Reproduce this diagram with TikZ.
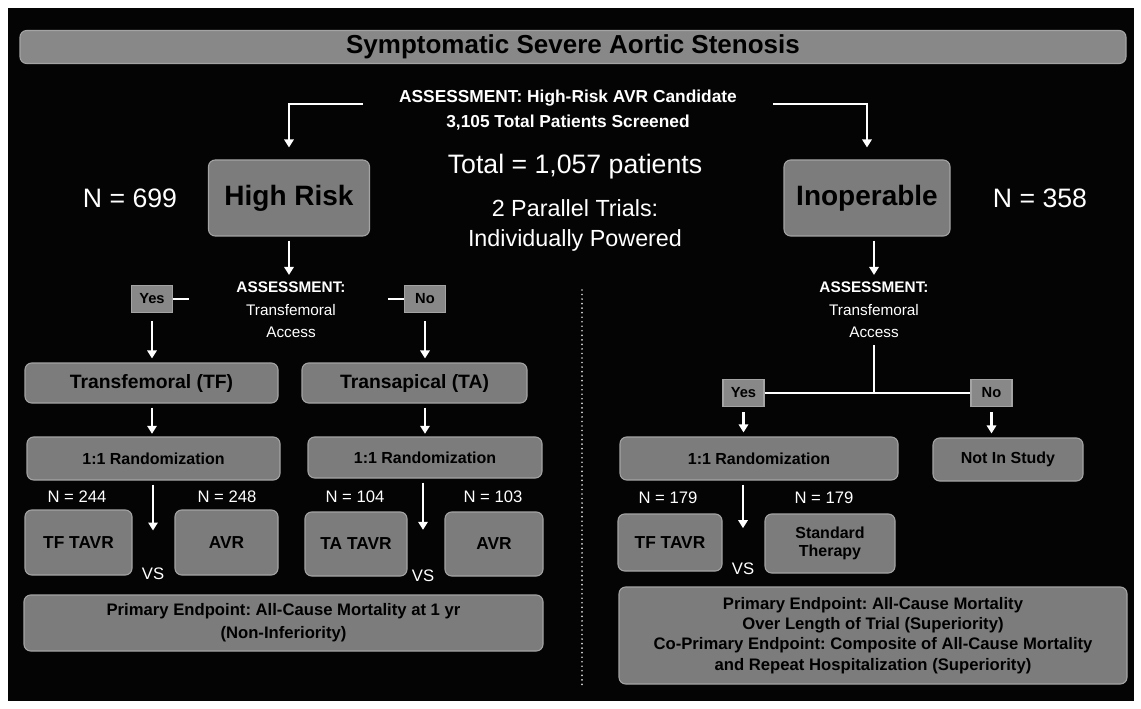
\documentclass[tikz,border=0pt]{standalone}
\usepackage{fontspec}
\setmainfont{Liberation Sans}
\usepackage{tikz}
\usetikzlibrary{arrows.meta, positioning, calc}
\definecolor{PanelBlack}{HTML}{040404}
\definecolor{BoxGray}{HTML}{7C7C7C}
\definecolor{BoxEdge}{HTML}{A4A4A4}
\definecolor{TagGray}{HTML}{888888}
\definecolor{DotGray}{HTML}{D8D8D8}
\frenchspacing

\begin{document}
\begin{tikzpicture}[
  x=0.75pt, y=-0.75pt,
  boxsize/.style 2 args={minimum width=#1*0.75pt, minimum height=#2*0.75pt},
  gbox/.style={rectangle, rounded corners=5pt, draw=BoxEdge, line width=0.8pt, fill=BoxGray, text=black, inner sep=0pt, align=center, font=\bfseries\fontsize{12}{14}\selectfont},
  tag/.style={rectangle, draw=BoxEdge, line width=0.8pt, fill=TagGray, text=black, inner sep=0pt, boxsize={41}{27}, font=\bfseries\fontsize{11}{13}\selectfont},
  wtext/.style={text=white, align=center, inner sep=0pt},
  bignum/.style={wtext, font=\fontsize{20}{24}\selectfont},
  smallnum/.style={wtext, font=\fontsize{12.5}{15}\selectfont},
  assess/.style={wtext, font=\fontsize{11.5}{17}\selectfont},
  arrow/.style={-{Triangle[width=7pt,length=6pt]}, line width=1.6pt, white},
  link/.style={line width=1.6pt, white}
]
  \useasboundingbox (0,0) rectangle (1141,709);
  \fill[white] (0,0) rectangle (1141,709);
  \fill[PanelBlack] (8,8) rectangle (1134,701);

  % Header
  \node[gbox, boxsize={1106}{33}, fill=TagGray, font=\bfseries\fontsize{19.5}{22}\selectfont] (title) at (573,47) {Symptomatic Severe Aortic Stenosis};
  \node[wtext, font=\bfseries\fontsize{13}{19}\selectfont] (screen) at (568,110) {ASSESSMENT: High-Risk AVR Candidate\\3,105 Total Patients Screened};
  \node[wtext, font=\fontsize{20}{24}\selectfont] (total) at (575,167) {Total = 1,057 patients};
  \node[wtext, font=\fontsize{17.5}{22.5}\selectfont] (parallel) at (575,225) {2 Parallel Trials:\\Individually Powered};

  % Two trials
  \node[gbox, boxsize={161}{76}, font=\bfseries\fontsize{21}{24}\selectfont] (highrisk) at (289,198) {High Risk};
  \node[gbox, boxsize={166}{76}, font=\bfseries\fontsize{21}{24}\selectfont] (inop) at (867,198) {Inoperable};
  \node[bignum] (nhigh) at (130,198) {N = 699};
  \node[bignum] (ninop) at (1040,198) {N = 358};

  % High risk branch
  \node[assess] (assessL) at (291,310) {\textbf{ASSESSMENT:}\\Transfemoral\\Access};
  \node[tag] (yesL) at (152,299) {Yes};
  \node[tag] (noL) at (425,299) {No};
  \node[gbox, boxsize={253}{40}, font=\bfseries\fontsize{14.5}{17}\selectfont] (tf) at (151.5,383) {Transfemoral (TF)};
  \node[gbox, boxsize={225}{40}, font=\bfseries\fontsize{14.5}{17}\selectfont] (ta) at (414.5,383) {Transapical (TA)};
  \node[gbox, boxsize={253}{43}] (randtf) at (153.5,458.5) {1:1 Randomization};
  \node[gbox, boxsize={234}{41}] (randta) at (425,457.5) {1:1 Randomization};
  \node[smallnum] (n244) at (77,497) {N = 244};
  \node[smallnum] (n248) at (227,497) {N = 248};
  \node[smallnum] (n104) at (355,497) {N = 104};
  \node[smallnum] (n103) at (493,497) {N = 103};
  \node[gbox, boxsize={107}{65}, font=\bfseries\fontsize{13}{15}\selectfont] (tftavr) at (78.5,542.5) {TF TAVR};
  \node[gbox, boxsize={103}{65}, font=\bfseries\fontsize{13}{15}\selectfont] (avrtf) at (226.5,542.5) {AVR};
  \node[gbox, boxsize={102}{64}, font=\bfseries\fontsize{13}{15}\selectfont] (tatavr) at (356,544) {TA TAVR};
  \node[gbox, boxsize={98}{64}, font=\bfseries\fontsize{13}{15}\selectfont] (avrta) at (494,544) {AVR};
  \node[smallnum] (vstf) at (153,574) {VS};
  \node[smallnum] (vsta) at (423,576) {VS};
  \node[gbox, boxsize={519}{56}, font=\bfseries\fontsize{12.5}{17}\selectfont] (endhigh) at (283.5,623) {Primary Endpoint: All-Cause Mortality at 1 yr\\(Non-Inferiority)};

  % Inoperable branch
  \node[assess] (assessR) at (874,310) {\textbf{ASSESSMENT:}\\Transfemoral\\Access};
  \node[tag] (yesR) at (743.5,393) {Yes};
  \node[tag] (noR) at (991.5,393) {No};
  \node[gbox, boxsize={278}{43}] (randinop) at (759,458.5) {1:1 Randomization};
  \node[gbox, boxsize={150}{43}] (notin) at (1008,459.5) {Not In Study};
  \node[smallnum] (n179a) at (668,498) {N = 179};
  \node[smallnum] (n179b) at (824,498) {N = 179};
  \node[gbox, boxsize={104}{57}, font=\bfseries\fontsize{13}{15}\selectfont] (tftavrR) at (670,542.5) {TF TAVR};
  \node[gbox, boxsize={130}{59}, font=\bfseries\fontsize{12}{14}\selectfont] (stdther) at (830,543.5) {Standard\\Therapy};
  \node[smallnum] (vsinop) at (743,569) {VS};
  \node[gbox, boxsize={508}{97}, font=\bfseries\fontsize{12.5}{15.2}\selectfont] (endinop) at (873,635.5) {Primary Endpoint: All-Cause Mortality\\Over Length of Trial (Superiority)\\Co-Primary Endpoint: Composite of All-Cause Mortality\\and Repeat Hospitalization (Superiority)};

  % Divider
  \draw[DotGray, line width=1.4pt, line cap=round, dash pattern=on 0pt off 3.4pt] (582,290) -- (582,685);

  % Arrows
  \draw[arrow] ([xshift=-27pt, yshift=4.5pt]screen.west) -| ([yshift=9pt]highrisk.north);
  \draw[arrow] ([xshift=27pt, yshift=4.5pt]screen.east) -| ([yshift=9pt]inop.north);
  \draw[arrow, shorten <=3pt, shorten >=5pt] (highrisk.south) -- (highrisk.south |- assessL.north);
  \draw[arrow, shorten <=3pt, shorten >=5pt] (inop.south -| assessR.north) -- (assessR.north);
  \draw[link] (yesL.east) -- ++(16,0);
  \draw[link] (noL.west) -- ++(-16,0);
  \draw[arrow, shorten <=6pt, shorten >=3pt] (yesL.south) -- (yesL.south |- tf.north);
  \draw[arrow, shorten <=6pt, shorten >=3pt] (noL.south) -- (noL.south |- ta.north);
  \draw[arrow, shorten <=3pt, shorten >=2pt] (tf.south -| yesL.south) -- (randtf.north -| yesL.south);
  \draw[arrow, shorten <=3pt, shorten >=2pt] (ta.south -| noL.south) -- (randta.north -| noL.south);
  \draw[arrow, shorten <=3pt, shorten >=28pt] (randtf.south -| vstf.north) -- (vstf.north);
  \draw[arrow, shorten <=3pt, shorten >=30pt] (randta.south -| vsta.north) -- (vsta.north);
  \draw[link, shorten <=5pt] (assessR.south) -- (assessR.south |- yesR.east);
  \draw[link] (yesR.east) -- (noR.west);
  \draw[arrow, shorten <=4pt, shorten >=3pt] (yesR.south) -- (yesR.south |- randinop.north);
  \draw[arrow, shorten <=4pt, shorten >=3pt] (noR.south) -- (noR.south |- notin.north);
  \draw[arrow, shorten <=3pt, shorten >=26pt] (randinop.south -| vsinop.north) -- (vsinop.north);
\end{tikzpicture}
\end{document}
